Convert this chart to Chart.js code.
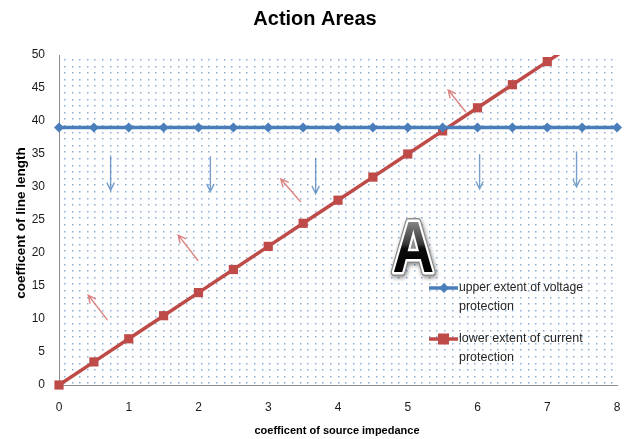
<!DOCTYPE html>
<html>
<head>
<meta charset="utf-8">
<script src="https://cdn.jsdelivr.net/npm/chart.js@4/dist/chart.umd.min.js"></script>
<style>
  html, body { margin: 0; padding: 0; background: #fff; }
  #wrap { width: 624px; height: 439px; }
</style>
</head>
<body>
<div id="wrap"><canvas id="c" width="624" height="439"></canvas></div>
<script>
// Source impedance coefficients (x) shared by both series
const sourceImpedance = [0, 0.5, 1, 1.5, 2, 2.5, 3, 3.5, 4, 4.5, 5, 5.5, 6, 6.5, 7, 7.5, 8];
// Upper extent of voltage protection
const voltageUpper = [39, 39, 39, 39, 39, 39, 39, 39, 39, 39, 39, 39, 39, 39, 39, 39, 39];
// Lower extent of current protection
const currentImpedance = [0, 0.5, 1, 1.5, 2, 2.5, 3, 3.5, 4, 4.5, 5, 5.5, 6, 6.5, 7, 7.5];
const currentLower = [0, 3.5, 7, 10.5, 14, 17.5, 21, 24.5, 28, 31.5, 35, 38.5, 42, 45.5, 49, 52.5];

const seriesNames = ['upper extent of voltage protection', 'lower extent of current protection'];
const xTicks = [0, 1, 2, 3, 4, 5, 6, 7, 8];
const yTicks = [0, 5, 10, 15, 20, 25, 30, 35, 40, 45, 50];

// Direction hints: [tailX, tailY, headX, headY] in axis units
const currentArrows = [
  [0.69, 9.9, 0.42, 13.6],
  [1.99, 18.9, 1.71, 22.7],
  [3.46, 27.8, 3.18, 31.2],
  [5.83, 41.4, 5.58, 44.7]
];
const voltageArrows = [
  [0.74, 34.7, 0.74, 29.5],
  [2.17, 34.6, 2.17, 29.3],
  [3.68, 34.3, 3.68, 29.0],
  [6.03, 34.9, 6.03, 29.7],
  [7.42, 35.3, 7.42, 30.0]
];
const areaLabel = { text: 'A', x: 5.08, y: 17.1 };

const BLUE = '#4a7ebb';
const RED = '#be4b48';
const LABEL_FONT = "'Liberation Sans Narrow', 'Liberation Sans', Arial, sans-serif";

function zip(xs, ys) { return ys.map((y, i) => ({ x: xs[i], y: y })); }

const dottedBackground = {
  id: 'dottedBackground',
  beforeDatasetsDraw(chart) {
    const { ctx, chartArea: a } = chart;
    ctx.save();
    ctx.fillStyle = 'rgba(79,129,189,0.65)';
    for (let y = a.top + 4; y < a.bottom - 1; y += 6.6) {
      for (let x = a.left + 5; x < a.right - 1; x += 7.6) {
        ctx.fillRect(Math.round(x), Math.round(y), 1.5, 1.5);
      }
    }
    ctx.restore();
  }
};

function drawArrow(ctx, x1, y1, x2, y2, color) {
  const ang = Math.atan2(y2 - y1, x2 - x1);
  const h = 8;
  ctx.strokeStyle = color;
  ctx.lineWidth = 1.4;
  ctx.beginPath();
  ctx.moveTo(x1, y1);
  ctx.lineTo(x2, y2);
  ctx.moveTo(x2 - h * Math.cos(ang - 0.45), y2 - h * Math.sin(ang - 0.45));
  ctx.lineTo(x2, y2);
  ctx.lineTo(x2 - h * Math.cos(ang + 0.45), y2 - h * Math.sin(ang + 0.45));
  ctx.stroke();
}

const annotations = {
  id: 'annotations',
  beforeDatasetsDraw(chart) {
    const { ctx, scales: { x, y } } = chart;
    ctx.save();
    ctx.lineCap = 'round';
    currentArrows.forEach(a => drawArrow(ctx, x.getPixelForValue(a[0]), y.getPixelForValue(a[1]),
      x.getPixelForValue(a[2]), y.getPixelForValue(a[3]), 'rgba(214,110,108,0.85)'));
    voltageArrows.forEach(a => drawArrow(ctx, x.getPixelForValue(a[0]), y.getPixelForValue(a[1]),
      x.getPixelForValue(a[2]), y.getPixelForValue(a[3]), 'rgba(74,126,187,0.75)'));
    ctx.restore();
  },
  afterDatasetsDraw(chart) {
    const { ctx, scales: { x, y } } = chart;
    // large "A" marking the action area
    const cx = x.getPixelForValue(areaLabel.x);
    const by = y.getPixelForValue(areaLabel.y);
    ctx.save();
    ctx.translate(cx, by);
    ctx.scale(0.8, 1);
    ctx.font = "bold 72px 'Liberation Sans', Arial, sans-serif";
    ctx.textAlign = 'center';
    ctx.textBaseline = 'alphabetic';
    ctx.lineJoin = 'round';
    ctx.shadowColor = 'rgba(0,0,0,0.45)';
    ctx.shadowBlur = 4;
    ctx.shadowOffsetX = 1;
    ctx.shadowOffsetY = 2;
    ctx.strokeStyle = '#8c8c8c';
    ctx.lineWidth = 8;
    ctx.strokeText(areaLabel.text, 0, 0);
    ctx.shadowColor = 'transparent';
    ctx.strokeStyle = '#ffffff';
    ctx.lineWidth = 5;
    ctx.strokeText(areaLabel.text, 0, 0);
    const g = ctx.createLinearGradient(0, -52, 0, 0);
    g.addColorStop(0, '#8a8a8a');
    g.addColorStop(0.45, '#3a3a3a');
    g.addColorStop(0.55, '#0a0a0a');
    g.addColorStop(1, '#000000');
    ctx.fillStyle = g;
    ctx.fillText(areaLabel.text, 0, 0);
    ctx.restore();

    // legend inside the plot
    const entries = [
      { ds: chart.data.datasets[0], lines: ['upper extent of voltage', 'protection'], y: 288 },
      { ds: chart.data.datasets[1], lines: ['lower extent of current', 'protection'], y: 339 }
    ];
    ctx.save();
    entries.forEach(e => {
      ctx.strokeStyle = e.ds.borderColor;
      ctx.lineWidth = 3.5;
      ctx.beginPath();
      ctx.moveTo(429, e.y);
      ctx.lineTo(458, e.y);
      ctx.stroke();
      ctx.fillStyle = e.ds.pointBackgroundColor;
      if (e.ds.pointStyle === 'rectRot') {
        ctx.beginPath();
        ctx.moveTo(444, e.y - 5); ctx.lineTo(449, e.y); ctx.lineTo(444, e.y + 5); ctx.lineTo(439, e.y);
        ctx.closePath(); ctx.fill();
      } else {
        ctx.fillRect(438, e.y - 5.5, 11, 11);
      }
      ctx.fillStyle = '#262626';
      ctx.font = '12.5px ' + LABEL_FONT;
      ctx.textAlign = 'left';
      ctx.textBaseline = 'middle';
      ctx.fillText(e.lines[0], 459, e.y, 124);
      ctx.fillText(e.lines[1], 459, e.y + 19, 60);
    });
    ctx.restore();
  },
  afterDraw(chart) {
    const { ctx } = chart;
    ctx.save();
    ctx.fillStyle = '#000';
    ctx.textAlign = 'center';
    ctx.textBaseline = 'middle';
    ctx.font = "bold 20px " + LABEL_FONT;
    ctx.fillText('Action Areas', 315, 19, 124);
    ctx.font = "bold 11px " + LABEL_FONT;
    ctx.fillText('coefficent of source impedance', 337, 431, 169);
    ctx.translate(21, 223);
    ctx.rotate(-Math.PI / 2);
    ctx.font = "bold 13.5px " + LABEL_FONT;
    ctx.fillText('coefficent of line length', 0, 0, 153);
    ctx.restore();
  }
};

new Chart(document.getElementById('c'), {
  type: 'scatter',
  data: {
    datasets: [
      {
        label: seriesNames[0],
        data: zip(sourceImpedance, voltageUpper),
        showLine: true,
        borderColor: BLUE,
        backgroundColor: BLUE,
        pointBackgroundColor: BLUE,
        pointBorderColor: BLUE,
        borderWidth: 3.5,
        pointStyle: 'rectRot',
        pointRadius: 5,
        pointBorderWidth: 0,
        clip: false
      },
      {
        label: seriesNames[1],
        data: zip(currentImpedance, currentLower),
        showLine: true,
        borderColor: RED,
        backgroundColor: RED,
        pointBackgroundColor: RED,
        pointBorderColor: RED,
        borderWidth: 3.5,
        pointStyle: 'rect',
        pointRadius: 6.5,
        pointBorderWidth: 0,
        clip: { left: 8, right: 8, top: 0, bottom: 8 }
      }
    ]
  },
  options: {
    responsive: false,
    animation: false,
    devicePixelRatio: 1,
    layout: { padding: { top: 55, right: 7, left: 0, bottom: 0 } },
    plugins: {
      legend: { display: false },
      title: { display: false },
      tooltip: { enabled: false }
    },
    scales: {
      x: {
        type: 'linear',
        min: 0, max: 8,
        afterFit(s) { s.height = 54; s.paddingLeft = 4; s.paddingRight = 4; },
        afterBuildTicks(s) { s.ticks = xTicks.map(v => ({ value: v })); },
        grid: { display: false, drawTicks: false },
        border: { display: true, color: '#8c8c8c', width: 1 },
        ticks: { padding: 15, color: '#1a1a1a', font: { size: 12, family: LABEL_FONT } }
      },
      y: {
        type: 'linear',
        min: 0, max: 50,
        afterFit(s) { s.width = 59; },
        afterBuildTicks(s) { s.ticks = yTicks.map(v => ({ value: v })); },
        grid: { display: false, drawTicks: false },
        border: { display: true, color: '#8c8c8c', width: 1 },
        ticks: { padding: 14, color: '#1a1a1a', font: { size: 12, family: LABEL_FONT } }
      }
    }
  },
  plugins: [dottedBackground, annotations]
});
</script>
</body>
</html>
